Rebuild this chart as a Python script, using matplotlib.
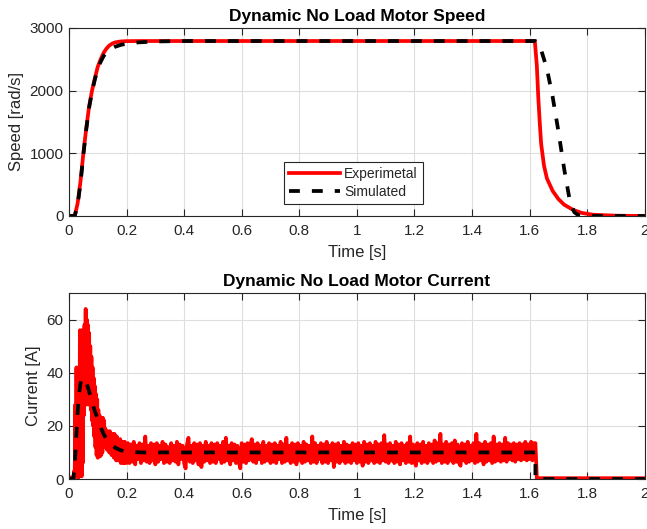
import numpy as np
import matplotlib
matplotlib.use('Agg')
import matplotlib.pyplot as plt

plt.rcParams['font.family'] = ['Liberation Sans', 'DejaVu Sans']

# speed, experimental
speed_exp_t = [0, 0.02, 0.03, 0.04, 0.05, 0.06, 0.07, 0.08, 0.09, 0.10, 0.11, 0.12, 0.13,
               0.14, 0.15, 0.16, 0.18, 0.20, 0.25, 1.618, 1.625, 1.63, 1.635, 1.64, 1.65,
               1.66, 1.68, 1.70, 1.72, 1.75, 1.78, 1.82, 1.90, 2.0]
speed_exp = [0, 0, 200, 550, 1000, 1400, 1750, 2000, 2200, 2380, 2500, 2600, 2670,
             2720, 2750, 2770, 2785, 2790, 2792, 2792, 2400, 1900, 1500, 1150, 800,
             600, 400, 270, 180, 100, 50, 20, 5, 0]

# speed, simulated
speed_sim_t = [0, 0.02, 0.03, 0.04, 0.05, 0.06, 0.07, 0.08, 0.09, 0.10, 0.11, 0.12, 0.13,
               0.14, 0.16, 0.18, 0.20, 0.24, 0.30, 0.40, 1.62, 1.63, 1.64, 1.66, 1.68,
               1.70, 1.72, 1.74, 1.755, 1.77, 1.80, 2.0]
speed_sim = [0, 0, 180, 520, 980, 1380, 1730, 1980, 2180, 2350, 2460, 2550, 2610,
             2650, 2700, 2730, 2750, 2770, 2785, 2792, 2792, 2760, 2650, 2350, 1900,
             1350, 750, 230, 60, 10, 0, 0]

# current, experimental: start-up (step 2 ms, 0..0.2 s)
cur_start = [0.5, 0.4, 0.6, 0.5, 0.3, 0.6, 0.5, 0.4, 0.8, 3, 0.5, 28, 1, 42, 2, 40, 0.5, 42,
             1, 56, 3, 55, 1, 56, 6, 54, 24, 58, 30, 64, 28, 60, 30, 58, 28, 55, 30, 50,
             26, 46, 22, 42, 20, 38, 16, 35, 12, 32, 9, 30, 8, 26, 9, 24, 8.5, 22, 9, 23,
             10, 23, 12, 22, 13, 19, 12, 17, 11, 18, 12, 17, 10, 18, 11, 16, 9, 17, 9, 16,
             8, 17, 8, 15, 7, 16, 8, 15, 7, 14, 7, 15, 6, 14, 7, 14, 6, 13, 6, 14, 7, 13, 6]
# current, experimental: steady running (step 5 ms, 0.205..1.62 s)
cur_run = [13.5, 6, 13, 6.5, 14, 5.5, 12.5, 7.5, 13.5, 6, 13, 7, 16, 6.5, 12.5, 6, 13.5, 7, 13, 5.5,
           13.5, 6.5, 12.5, 7.5, 14, 6, 13, 6.5, 12, 6, 13.5, 7, 12.5, 6.5, 14, 5.5, 13, 7.5, 12.5, 6,
           4, 13, 15.5, 6.5, 12.5, 6, 13.5, 7, 13, 5.5, 13.5, 4.5, 12.5, 6.5, 14, 7, 12.5, 6, 13.5, 6.5,
           13, 6, 13.5, 7.5, 12.5, 6, 14, 6.5, 15.5, 7, 12.5, 5.5, 13.5, 7, 13, 6, 12.5, 6.5, 4, 13.5,
           6.5, 13, 6, 13.5, 7, 12.5, 15, 6.5, 13, 6, 13.5, 7.5, 12.5, 6, 14, 6.5, 12.5, 7, 13.5, 6,
           13, 6.5, 13.5, 6, 12.5, 7.5, 14, 6, 13, 6.5, 15.5, 7, 12.5, 6, 13.5, 6.5, 13, 5.5, 13.5, 7,
           12.5, 6, 14, 6.5, 13, 7, 12.5, 6, 16, 6.5, 13.5, 6, 12.5, 7.5, 13.5, 6, 13, 6.5, 14, 6,
           12.5, 7, 13.5, 4.5, 13, 6.5, 13.5, 6, 12.5, 7, 14, 6, 13, 6.5, 12.5, 6, 13.5, 7, 13, 6,
           13.5, 6.5, 12.5, 5, 14, 6.5, 13, 6, 13.5, 7, 12.5, 6, 14, 6.5, 13, 6, 13.5, 7, 16.5, 6.5,
           13, 6, 13.5, 7, 12.5, 6, 14, 6.5, 13, 5.5, 13.5, 7, 12.5, 6, 13.5, 6.5, 16, 6, 13, 6.5,
           5, 13.5, 7, 13, 6, 14, 6.5, 12.5, 6, 13.5, 7, 13, 6, 14.5, 6.5, 13.5, 7, 17, 6, 13,
           6.5, 14, 6, 13, 7, 13.5, 6, 14.5, 6.5, 13, 6, 5, 13.5, 7, 13, 6, 14, 6.5, 12.5, 7,
           13.5, 6, 17, 6.5, 13.5, 7, 13, 5.5, 14, 6.5, 13, 7, 13.5, 6, 16, 6.5, 13, 7, 13.5, 6.5,
           13, 7, 15.5, 6.5, 13.5, 7.5, 13, 7, 13.5, 6.5, 13, 7.5, 13.5, 7, 13, 7.5, 14, 7, 13, 7.5,
           14, 7, 13.5, 13.5]
# current, experimental: after switch-off
cur_off_t = [1.625, 2.0]
cur_off = [0.3, 0.3]

# current, simulated
cur_sim_t = [0, 0.015, 0.02, 0.025, 0.03, 0.035, 0.04, 0.045, 0.05, 0.055, 0.06, 0.07,
             0.08, 0.09, 0.10, 0.11, 0.12, 0.13, 0.14, 0.16, 0.18, 0.20, 0.25, 1.62, 1.6201, 2.0]
cur_sim = [0, 0, 5, 15, 25, 32, 36, 37.8, 38, 37.6, 36.5, 33,
           29, 25.5, 22.5, 19.5, 17, 15, 13.5, 11.8, 10.8, 10.3, 10, 10, 0, 0]

xticks = [0, 0.2, 0.4, 0.6, 0.8, 1, 1.2, 1.4, 1.6, 1.8, 2]
xtick_labels = ['0', '0.2', '0.4', '0.6', '0.8', '1', '1.2', '1.4', '1.6', '1.8', '2']

# time axes of the sampled current record
t_start = np.round(np.arange(len(cur_start)) * 0.002, 4)
t_run = np.round(0.205 + np.arange(len(cur_run)) * 0.005, 4)
cur_exp_t = np.concatenate([t_start, t_run, cur_off_t])
cur_exp = np.concatenate([cur_start, cur_run, cur_off])

AxColor = '#262626'
RED = '#ff0000'
LW = 2.7
DASH = (2.9, 3.2)


def style_axes(ax, title, ylabel):
    ax.set_xlim(0, 2)
    ax.set_xticks(xticks)
    ax.set_xticklabels(xtick_labels)
    ax.grid(True, color='#dedede', linewidth=0.8)
    ax.set_axisbelow(True)
    ax.tick_params(direction='in', top=True, right=True, length=5, width=0.8,
                   labelsize=11, colors=AxColor, labelcolor=AxColor)
    ax.tick_params(axis='x', pad=6)
    ax.tick_params(axis='y', pad=4)
    for s in ax.spines.values():
        s.set_color(AxColor)
        s.set_linewidth(0.8)
    ax.set_title(title, fontsize=12.5, fontweight='bold', pad=5)
    ax.set_xlabel('Time [s]', fontsize=12, color=AxColor, labelpad=5)
    ax.set_ylabel(ylabel, fontsize=12, color=AxColor, labelpad=4)


fig = plt.figure(figsize=(6.47, 5.29), dpi=100)

# speed
AxS = fig.add_axes([0.1066, 0.5917, 0.890, 0.3554])
AxS.plot(speed_exp_t, speed_exp, color=RED, linewidth=LW, label='Experimetal')
AxS.plot(speed_sim_t, speed_sim, color='black', linewidth=LW, linestyle=(0, DASH),
         dash_capstyle='butt', label='Simulated')
AxS.set_ylim(0, 3000)
AxS.set_yticks([0, 1000, 2000, 3000])
style_axes(AxS, 'Dynamic No Load Motor Speed', 'Speed [rad/s]')
leg = AxS.legend(loc='lower left', bbox_to_anchor=(0.373, 0.064), fontsize=10,
                 fancybox=False, framealpha=1, edgecolor=AxColor, handlelength=3.7,
                 handletextpad=0.3, labelspacing=0.3, borderpad=0.35, borderaxespad=0)
leg.get_frame().set_linewidth(0.8)
for txt in leg.get_texts():
    txt.set_color(AxColor)

# current
AxC = fig.add_axes([0.1066, 0.0945, 0.890, 0.3516])
AxC.plot(cur_exp_t, cur_exp, color=RED, linewidth=LW)
AxC.plot(cur_sim_t, cur_sim, color='black', linewidth=LW, linestyle=(0, DASH),
         dash_capstyle='butt')
AxC.set_ylim(0, 70)
AxC.set_yticks([0, 20, 40, 60])
style_axes(AxC, 'Dynamic No Load Motor Current', 'Current [A]')

fig.savefig('out.png', dpi=100)
